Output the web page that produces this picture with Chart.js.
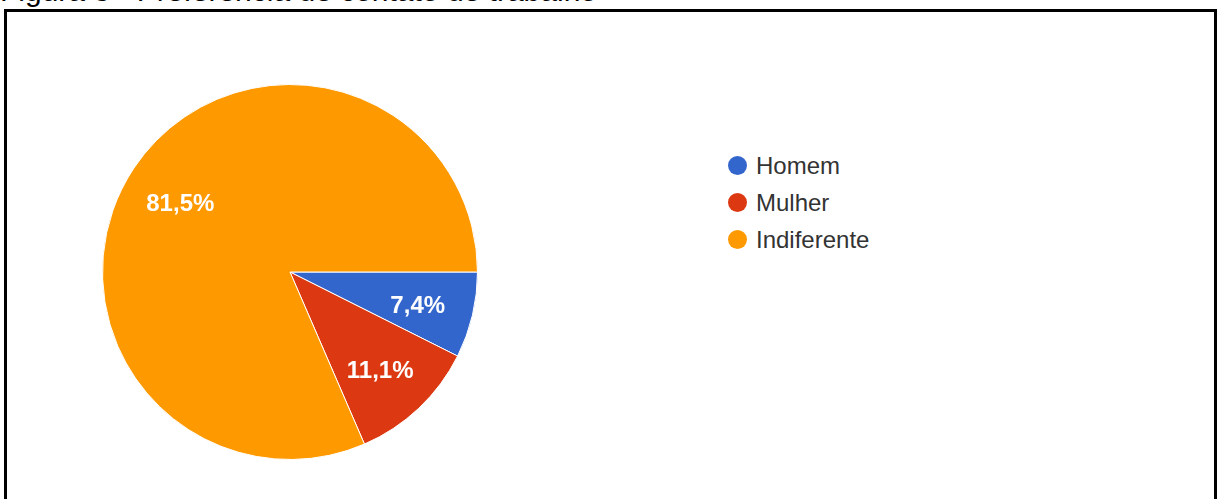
<!DOCTYPE html>
<html>
<head>
<meta charset="utf-8">
<script src="https://cdn.jsdelivr.net/npm/chart.js@4.4.1/dist/chart.umd.min.js"></script>
<style>
  html, body { margin: 0; padding: 0; background: #fff; }
  body { width: 1217px; height: 499px; position: relative; overflow: hidden; font-family: "Liberation Sans", Arial, sans-serif; }
  #title { position: absolute; left: 0; top: -27px; font-size: 30px; line-height: 35px; color: #000; white-space: nowrap; }
  #frame { position: absolute; left: 4px; top: 9px; width: 1213px; height: 500px; border: 3px solid #000; border-bottom: none; box-sizing: border-box; }
  #pieWrap { position: absolute; left: 90px; top: 72px; width: 400px; height: 400px; }
  #legend { position: absolute; left: 728px; top: 147px; }
  .item { display: flex; align-items: center; height: 37px; font-size: 24px; color: #333; }
  .dot { width: 19px; height: 19px; border-radius: 50%; margin-right: 9px; }
</style>
</head>
<body>
<div id="title">Figura 3 - Preferência de contato de trabalho</div>
<div id="frame"></div>
<div id="pieWrap"><canvas id="c" width="400" height="400"></canvas></div>
<div id="legend"></div>
<script>
const categories = ["Homem", "Mulher", "Indiferente"];
const values = [7.4, 11.1, 81.5];
const valueLabels = ["7,4%", "11,1%", "81,5%"];
const colors = ["#3366CC", "#DC3912", "#FF9900"];

const labelPlugin = {
  id: 'sliceLabels',
  afterDatasetsDraw(chart) {
    const ctx = chart.ctx;
    const meta = chart.getDatasetMeta(0);
    ctx.save();
    ctx.fillStyle = '#fff';
    ctx.font = 'bold 24px "Liberation Sans", Arial, sans-serif';
    ctx.textAlign = 'center';
    ctx.textBaseline = 'middle';
    meta.data.forEach((arc, i) => {
      const p = arc.getProps(['x', 'y', 'startAngle', 'endAngle', 'outerRadius'], true);
      const mid = (p.startAngle + p.endAngle) / 2;
      const r = p.outerRadius * 0.7;
      ctx.fillText(valueLabels[i], p.x + Math.cos(mid) * r, p.y + Math.sin(mid) * r + 4);
    });
    ctx.restore();
  }
};

new Chart(document.getElementById('c'), {
  type: 'pie',
  data: {
    labels: categories,
    datasets: [{
      data: values,
      backgroundColor: colors,
      borderColor: '#ffffff',
      borderWidth: 1
    }]
  },
  options: {
    responsive: false,
    animation: false,
    rotation: 90,
    layout: { padding: 12 },
    plugins: { legend: { display: false }, tooltip: { enabled: false } }
  },
  plugins: [labelPlugin]
});

const legend = document.getElementById('legend');
categories.forEach((c, i) => {
  const it = document.createElement('div');
  it.className = 'item';
  const d = document.createElement('span');
  d.className = 'dot';
  d.style.background = colors[i];
  const t = document.createElement('span');
  t.textContent = c;
  it.appendChild(d); it.appendChild(t);
  legend.appendChild(it);
});
</script>
</body>
</html>
